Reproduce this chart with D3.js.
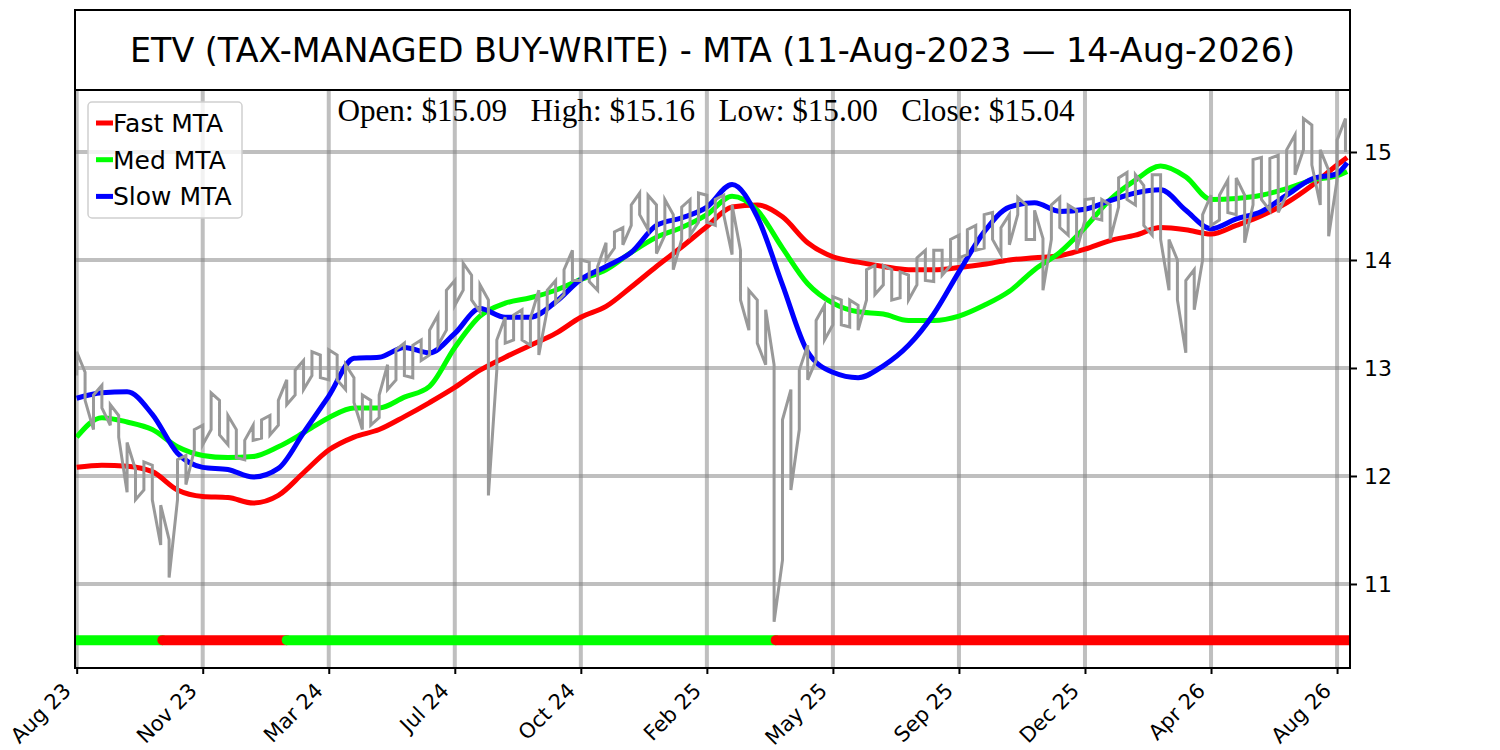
<!DOCTYPE html>
<html>
<head>
<meta charset="utf-8">
<script src="https://cdn.jsdelivr.net/npm/d3@7"></script>
<style>
    body { margin: 0; background: #fff; }
    text { font-family: "DejaVu Sans", sans-serif; }
</style>
</head>
<body>
<div id="the_chart"></div>
<script>
// --- data ---
var title = "ETV (TAX-MANAGED BUY-WRITE) - MTA (11-Aug-2023 \u2014 14-Aug-2026)";
var ohlcLabels = ["Open", "High", "Low", "Close"];
var ohlcValues = [15.09, 15.16, 15.00, 15.04];

// x axis is bar index (trading days), a tick every 75 bars
var nBars = 757;
var tickIdx = [0, 75, 150, 225, 300, 375, 450, 525, 600, 675, 750];
var tickLabels = ["Aug 23", "Nov 23", "Mar 24", "Jul 24", "Oct 24", "Feb 25",
                  "May 25", "Sep 25", "Dec 25", "Apr 26", "Aug 26"];
var yTicks = [11, 12, 13, 14, 15];

// weekly (every 5 bars) high / low of the price
var priceStep = 5;
var priceHi = [13.15, 12.96, 12.75, 12.84, 12.66, 12.56, 12.31, 12.06, 12.13, 12.10,
    11.73, 11.41, 12.15, 12.19, 12.43, 12.47, 12.77, 12.70, 12.56, 12.43,
    12.33, 12.47, 12.52, 12.56, 12.70, 12.89, 12.98, 13.07, 13.15, 13.12,
    13.17, 13.12, 13.03, 12.91, 12.75, 12.70, 12.75, 13.03, 13.17, 13.23,
    13.21, 13.26, 13.35, 13.49, 13.72, 13.81, 13.97, 13.86, 13.77, 13.63,
    13.26, 13.47, 13.49, 13.54, 13.46, 13.72, 13.72, 13.81, 13.91, 14.09,
    14.00, 13.98, 13.94, 14.16, 14.26, 14.30, 14.51, 14.62, 14.60, 14.51,
    14.56, 14.42, 14.49, 14.56, 14.62, 14.60, 14.56, 14.60, 14.51, 14.09,
    13.72, 13.63, 13.54, 13.03, 12.52, 12.80, 12.98, 13.21, 13.44, 13.58,
    13.66, 13.63, 13.63, 13.58, 13.91, 13.95, 13.95, 13.91, 13.89, 13.86,
    14.02, 14.09, 14.09, 14.09, 14.19, 14.23, 14.28, 14.32, 14.42, 14.44,
    14.30, 14.42, 14.58, 14.51, 14.46, 14.20, 14.51, 14.58, 14.51, 14.46,
    14.56, 14.57, 14.56, 14.51, 14.76, 14.81, 14.79, 14.69, 14.79, 14.79,
    14.19, 14.00, 13.81, 13.91, 14.42, 14.60, 14.60, 14.74, 14.76, 14.60,
    14.93, 14.95, 14.94, 14.97, 15.02, 15.16, 15.31, 15.25, 15.02, 14.83,
    15.11, 15.31];
var priceLo = [12.93, 12.70, 12.43, 12.63, 12.47, 12.36, 11.85, 11.78, 11.87, 11.78,
    11.36, 11.06, 11.78, 11.92, 12.24, 12.29, 12.43, 12.38, 12.29, 12.17,
    12.15, 12.33, 12.35, 12.38, 12.47, 12.66, 12.75, 12.80, 12.93, 12.91,
    12.89, 12.89, 12.80, 12.68, 12.43, 12.47, 12.54, 12.80, 12.89, 12.93,
    12.91, 13.07, 13.12, 13.21, 13.35, 13.58, 13.72, 13.63, 13.52, 11.82,
    12.98, 13.23, 13.26, 13.26, 13.21, 13.12, 13.54, 13.60, 13.68, 13.81,
    13.81, 13.80, 13.72, 14.00, 14.11, 14.14, 14.32, 14.42, 14.28, 14.06,
    14.23, 13.91, 14.19, 14.23, 14.35, 14.35, 14.32, 14.42, 14.05, 13.63,
    13.35, 13.23, 13.03, 10.65, 11.22, 11.87, 12.43, 12.89, 13.07, 13.26,
    13.40, 13.40, 13.38, 13.35, 13.63, 13.68, 13.77, 13.63, 13.65, 13.63,
    13.77, 13.81, 13.80, 13.86, 13.95, 14.02, 14.05, 14.09, 14.11, 14.19,
    14.05, 14.14, 14.42, 14.19, 14.19, 13.72, 14.19, 14.30, 14.23, 14.09,
    14.37, 14.39, 14.37, 14.19, 14.49, 14.56, 14.51, 14.32, 14.23, 14.19,
    13.72, 13.63, 13.14, 13.54, 14.00, 14.32, 14.37, 14.44, 14.42, 14.16,
    14.51, 14.56, 14.46, 14.44, 14.60, 14.79, 15.02, 14.88, 14.51, 14.22,
    14.74, 15.00];

// moving trend averages, one value every 15 bars (last one at the final bar)
var maStep = 15;
var fastMta = [12.08, 12.10, 12.09, 12.04, 11.87, 11.81, 11.80, 11.75, 11.82, 12.03,
    12.24, 12.36, 12.43, 12.55, 12.68, 12.82, 12.98, 13.10, 13.21, 13.32,
    13.47, 13.57, 13.75, 13.94, 14.12, 14.31, 14.49, 14.51, 14.40, 14.16,
    14.03, 13.98, 13.94, 13.91, 13.91, 13.93, 13.96, 14.00, 14.02, 14.04,
    14.10, 14.18, 14.23, 14.30, 14.28, 14.24, 14.32, 14.41, 14.53, 14.69,
    14.88, 14.95];
var medMta = [12.36, 12.54, 12.50, 12.43, 12.27, 12.19, 12.17, 12.18, 12.27, 12.40,
    12.54, 12.63, 12.63, 12.73, 12.83, 13.19, 13.48, 13.60, 13.65, 13.72,
    13.82, 13.91, 14.07, 14.21, 14.30, 14.42, 14.59, 14.46, 14.11, 13.78,
    13.60, 13.52, 13.50, 13.44, 13.44, 13.48, 13.58, 13.71, 13.91, 14.07,
    14.30, 14.56, 14.74, 14.87, 14.77, 14.56, 14.57, 14.60, 14.66, 14.74,
    14.78, 14.82];
var slowMta = [12.72, 12.77, 12.78, 12.57, 12.21, 12.08, 12.06, 11.99, 12.07, 12.40,
    12.74, 13.09, 13.10, 13.19, 13.14, 13.32, 13.55, 13.47, 13.47, 13.61,
    13.82, 13.94, 14.07, 14.32, 14.39, 14.49, 14.70, 14.40, 13.77, 13.15,
    12.96, 12.91, 13.02, 13.21, 13.50, 13.89, 14.26, 14.49, 14.53, 14.45,
    14.47, 14.55, 14.62, 14.65, 14.46, 14.29, 14.38, 14.45, 14.60, 14.75,
    14.80, 14.90];

// trend regime strip at the bottom: bar where each regime starts
var regimeStart = [0, 51, 125, 416];
var regimeState = ["up", "down", "up", "down"];
var regimeLevel = 10.48;

var seriesNames = ["Fast MTA", "Med MTA", "Slow MTA"];
var seriesColors = ["#ff0000", "#00ff00", "#0000ff"];

drawChart();

function drawChart() {
    var w = 1500, h = 750;
    var pLeft = 75, pRight = 1350, pTop = 90, pBottom = 668; // plot box

    var svg = d3.select("#the_chart")
        .append("svg")
        .attr("width", w)
        .attr("height", h);

    var xscale = d3.scaleLinear()
        .domain([-1, nBars + 0.7])
        .range([pLeft, pRight]);

    var yscale = d3.scaleLinear()
        .domain([10.222, 15.574])
        .range([pBottom, pTop]);

    svg.append("clipPath").attr("id", "plotclip")
        .append("rect")
        .attr("x", pLeft).attr("y", pTop)
        .attr("width", pRight - pLeft).attr("height", pBottom - pTop);

    // grid
    var grid = svg.append("g");
    grid.selectAll(".vg").data(tickIdx).enter().append("line")
        .attr("x1", function(d) { return xscale(d); })
        .attr("x2", function(d) { return xscale(d); })
        .attr("y1", pTop).attr("y2", pBottom)
        .attr("stroke", "#808080").attr("stroke-opacity", 0.5).attr("stroke-width", 4);
    grid.selectAll(".hg").data(yTicks).enter().append("line")
        .attr("x1", pLeft).attr("x2", pRight)
        .attr("y1", function(d) { return yscale(d); })
        .attr("y2", function(d) { return yscale(d); })
        .attr("stroke", "#808080").attr("stroke-opacity", 0.5).attr("stroke-width", 4);

    var plot = svg.append("g").attr("clip-path", "url(#plotclip)");

    // regime strip
    var regimes = regimeStart.map(function(s, i) {
        var e = i < regimeStart.length - 1 ? regimeStart[i + 1] : nBars + 5;
        return { s: s, e: e, state: regimeState[i] };
    });
    plot.selectAll(".regime").data(regimes).enter().append("line")
        .attr("x1", function(d) { return xscale(d.s); })
        .attr("x2", function(d) { return xscale(d.e); })
        .attr("y1", yscale(regimeLevel)).attr("y2", yscale(regimeLevel))
        .attr("stroke", function(d) { return d.state == "up" ? "#00ff00" : "#ff0000"; })
        .attr("stroke-width", 10)
        .attr("stroke-linecap", "round");

    // moving averages
    var maLine = d3.line()
        .x(function(d) { return xscale(d[0]); })
        .y(function(d) { return yscale(d[1]); })
        .curve(d3.curveMonotoneX);

    [fastMta, medMta, slowMta].forEach(function(ser, j) {
        var pts = ser.map(function(v, i) {
            return [Math.min(i * maStep, nBars - 1), v];
        });
        plot.append("path")
            .attr("d", maLine(pts))
            .attr("fill", "none")
            .attr("stroke", seriesColors[j])
            .attr("stroke-width", 5)
            .attr("stroke-linejoin", "round");
    });

    // price trace: zig-zag through each week's low and high
    var pricePts = [];
    priceHi.forEach(function(hiv, i) {
        var lov = priceLo[i];
        if (i % 2 == 0) {
            pricePts.push([i * priceStep, lov], [i * priceStep, hiv]);
        } else {
            pricePts.push([i * priceStep, hiv], [i * priceStep, lov]);
        }
    });
    plot.append("path")
        .attr("d", d3.line()
            .x(function(d) { return xscale(d[0]); })
            .y(function(d) { return yscale(d[1]); })(pricePts))
        .attr("fill", "none")
        .attr("stroke", "#999999")
        .attr("stroke-width", 3);

    // axes
    var yaxis = d3.axisRight(yscale)
        .tickValues(yTicks)
        .tickSize(7)
        .tickPadding(7)
        .tickFormat(d3.format("d"));
    var gy = svg.append("g")
        .attr("transform", "translate(" + pRight + ",0)")
        .call(yaxis);
    gy.attr("font-size", 22).attr("font-family", "DejaVu Sans");
    gy.select(".domain").remove();
    gy.selectAll("line").attr("stroke", "#000").attr("stroke-width", 2);
    gy.selectAll("text").attr("fill", "#000");

    var xaxis = d3.axisBottom(xscale)
        .tickValues(tickIdx)
        .tickSize(6)
        .tickFormat(function(d, i) { return tickLabels[i]; });
    var gx = svg.append("g")
        .attr("transform", "translate(0," + pBottom + ")")
        .call(xaxis);
    gx.attr("font-size", 21).attr("font-family", "DejaVu Sans");
    gx.select(".domain").remove();
    gx.selectAll("line").attr("stroke", "#000").attr("stroke-width", 2);
    gx.selectAll("text")
        .attr("fill", "#000")
        .attr("text-anchor", "end")
        .attr("dy", null)
        .attr("y", null)
        .attr("transform", "translate(-5,24) rotate(-45)");

    // frame
    svg.append("rect")
        .attr("x", pLeft).attr("y", pTop)
        .attr("width", pRight - pLeft).attr("height", pBottom - pTop)
        .attr("fill", "none").attr("stroke", "#000").attr("stroke-width", 2);

    // title box
    svg.append("rect")
        .attr("x", pLeft).attr("y", 10)
        .attr("width", pRight - pLeft).attr("height", pTop - 10)
        .attr("fill", "#fff").attr("stroke", "#000").attr("stroke-width", 2);
    svg.append("text")
        .attr("x", (pLeft + pRight) / 2).attr("y", 62)
        .attr("text-anchor", "middle")
        .attr("font-size", 33.4)
        .text(title);

    // OHLC line
    svg.append("text")
        .attr("x", 706).attr("y", 121)
        .attr("text-anchor", "middle")
        .style("font-family", "'Liberation Serif', 'Times New Roman', serif")
        .style("white-space", "pre")
        .attr("font-size", 31.2)
        .text(ohlcLabels.map(function(l, i) {
            return l + ": $" + ohlcValues[i].toFixed(2);
        }).join("   "));

    // legend
    var legend = svg.append("g");
    legend.append("rect")
        .attr("x", 88).attr("y", 102)
        .attr("width", 154).attr("height", 116)
        .attr("rx", 4)
        .attr("fill", "#fff").attr("fill-opacity", 0.8)
        .attr("stroke", "#d0d0d0").attr("stroke-width", 1.5);
    var items = legend.selectAll(".item").data(seriesNames).enter().append("g")
        .attr("transform", function(d, i) { return "translate(96," + (123 + i * 36.7) + ")"; });
    items.append("line")
        .attr("x1", 0).attr("x2", 17)
        .attr("stroke", function(d, i) { return seriesColors[i]; })
        .attr("stroke-width", 5);
    items.append("text")
        .attr("x", 17)
        .attr("dy", "0.36em")
        .attr("font-size", 25)
        .text(function(d) { return d; });
}
</script>
</body>
</html>
